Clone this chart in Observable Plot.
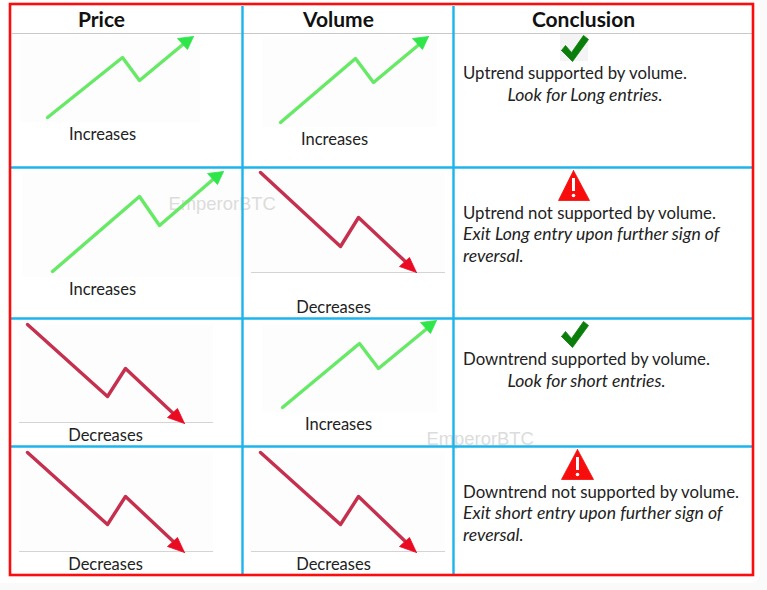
<!DOCTYPE html>
<html>
<head>
<meta charset="utf-8">
<script src="https://cdn.jsdelivr.net/npm/d3@7"></script>
<script src="https://cdn.jsdelivr.net/npm/@observablehq/plot@0.6"></script>
<style>
html,body{margin:0;padding:0;background:#fafafa;}
svg{display:block;}
</style>
</head>
<body>
<div id="chart"></div>
<script>
// Picture-space readings: [x, y]
const greenTrends = [
  [[47,117],[122,57],[139,80],[186,41]],
  [[280,122],[355,58],[373,82],[421,42]],
  [[52,271],[139,196],[159,225],[216,176]],
  [[282,407],[359,343],[378,368],[429,326]]
];
const greenHeads = [
  [[193,36],[177,38],[187,49]],
  [[428,36],[412,38],[422,49]],
  [[223,171],[207,173],[217,184]],
  [[436,320],[420,322],[430,333]]
];
const redTrends = [
  [[260,172],[340,246],[358,217],[408,264]],
  [[27,324],[107,396],[125,368],[176,416]],
  [[27,452],[107,524],[125,496],[176,544]],
  [[260,452],[340,524],[358,496],[408,544]]
];
const redHeads = [
  [[416,272],[399,266],[409,257]],
  [[184,423],[167,417],[177,408]],
  [[184,552],[167,546],[177,537]],
  [[416,552],[399,546],[409,537]]
];
const baselines = [[251,445,272],[19,213,422],[19,213,551],[251,445,551]];
const patches = [[20,200,35,122],[262,437,36,127],[22,240,172,277],[250,445,172,272],[20,213,325,422],[262,437,325,412],[20,213,452,551],[250,445,452,551]];

const headers = ["Price","Volume","Conclusion"];
const headerX = [101,338,583];
const headerY = 20;

const cellLabels = ["Increases","Increases","Increases","Decreases","Decreases","Increases","Decreases","Decreases"];
const cellLabelX = [102,334,102,333,105,338,105,333];
const cellLabelY = [134,139,289,307,435,424,564,564];

const plainNotes = [
  ["Uptrend supported by volume.",462.5,73],
  ["Uptrend not supported by volume.",462.5,213],
  ["Downtrend supported by volume.",462.5,359],
  ["Downtrend not supported by volume.",462.5,492]
];
const italicNotes = [
  ["Look for Long entries.",507,95],
  ["Exit Long entry upon further sign of",462.5,234],
  ["reversal.",462.5,256],
  ["Look for short entries.",507,381],
  ["Exit short entry upon further sign of",462.5,513],
  ["reversal.",462.5,535]
];

const checks = [
  [[561,50],[565,45],[571,52],[583,35],[588,39],[572,61]],
  [[561,336],[565,331],[571,338],[583,321],[588,325],[572,347]]
];
const checkPatches = [[560,588,33,61]];
const warnings = [
  [[573,170],[558,200],[589,200]],
  [[577,449],[561,479],[593,479]]
];
const warnBars = [[573,178,191],[577,457,470]];
const warnDots = [[573,195],[577,474]];

const watermarks = [["EmperorBTC",168,204],["EmperorBTC",426,439]];

const vLines = [242,453];
const hLines = [167,318,446];
const frame = [[10,753,4,575]];
const card = [[-10,760,-10,583]];
const headerRule = [[12,752,33]];

const RED = "#fb0d0d", BLUE = "#1cb4ec", FONT = "Lato, 'Open Sans', sans-serif";
const trend = (pts, stroke) => Plot.line(pts, {x:d=>d[0], y:d=>d[1], stroke, strokeWidth:3.4, strokeLinejoin:"round", strokeLinecap:"round", curve:"linear"});
const poly = (pts, fill) => Plot.line([...pts, pts[0]], {x:d=>d[0], y:d=>d[1], fill, stroke:fill, strokeWidth:0.8, strokeLinejoin:"round"});

const plot = Plot.plot({
  width:767, height:590,
  margin:0,
  style:{background:"transparent", fontFamily:FONT},
  x:{domain:[0,767], range:[0,767], axis:null},
  y:{domain:[0,590], range:[0,590], axis:null},
  marks:[
    Plot.rect(card,{x1:d=>d[0],x2:d=>d[1],y1:d=>d[2],y2:d=>d[3],fill:"#fff",rx:10}),
    Plot.rect(patches,{x1:d=>d[0],x2:d=>d[1],y1:d=>d[2],y2:d=>d[3],fill:"#fdfdfd"}),
    Plot.rect(checkPatches,{x1:d=>d[0],x2:d=>d[1],y1:d=>d[2],y2:d=>d[3],fill:"#f3f4f3"}),
    Plot.text(watermarks,{x:d=>d[1],y:d=>d[2],text:d=>d[0],textAnchor:"start",fill:"#dcdcdc",fontSize:18.4,fontFamily:"'Liberation Sans', Arial, sans-serif"}),
    Plot.ruleY(baselines,{x1:d=>d[0],x2:d=>d[1],y:d=>d[2],stroke:"#d4d4d4",strokeWidth:1.2}),
    ...greenTrends.map(t=>trend(t,"#66ea66")),
    ...greenHeads.map(h=>poly(h,"#2fe64a")),
    ...redTrends.map(t=>trend(t,"#c5304f")),
    ...redHeads.map(h=>poly(h,"#ea0a22")),
    Plot.ruleY(headerRule,{x1:d=>d[0],x2:d=>d[1],y:d=>d[2],stroke:"#c8c8c8",strokeWidth:1}),
    Plot.ruleX(vLines,{x:d=>d,y1:6,y2:574,stroke:BLUE,strokeWidth:2.4}),
    Plot.ruleY(hLines,{y:d=>d,x1:11,x2:752,stroke:BLUE,strokeWidth:2.4}),
    Plot.rect(frame,{x1:d=>d[0],x2:d=>d[1],y1:d=>d[2],y2:d=>d[3],fill:"none",stroke:RED,strokeWidth:2.6}),
    Plot.text(headers,{x:(d,i)=>headerX[i],y:headerY,text:d=>d,fontWeight:700,fontSize:21,fill:"#111"}),
    Plot.text(cellLabels,{x:(d,i)=>cellLabelX[i],y:(d,i)=>cellLabelY[i],text:d=>d,fontSize:16.5,fill:"#222"}),
    Plot.text(plainNotes,{x:d=>d[1],y:d=>d[2],text:d=>d[0],textAnchor:"start",fontSize:16.8,fill:"#222"}),
    Plot.text(italicNotes,{x:d=>d[1],y:d=>d[2],text:d=>d[0],textAnchor:"start",fontStyle:"italic",fontSize:17.6,fill:"#222"}),
    ...checks.map(c=>poly(c,"#0b7d0b")),
    ...warnings.map(w=>poly(w,"#f80d0d")),
    Plot.ruleX(warnBars,{x:d=>d[0],y1:d=>d[1],y2:d=>d[2],stroke:"#fff",strokeWidth:3}),
    Plot.dot(warnDots,{x:d=>d[0],y:d=>d[1],r:1.8,fill:"#fff"})
  ]
});
document.getElementById("chart").append(plot);
</script>
</body>
</html>
